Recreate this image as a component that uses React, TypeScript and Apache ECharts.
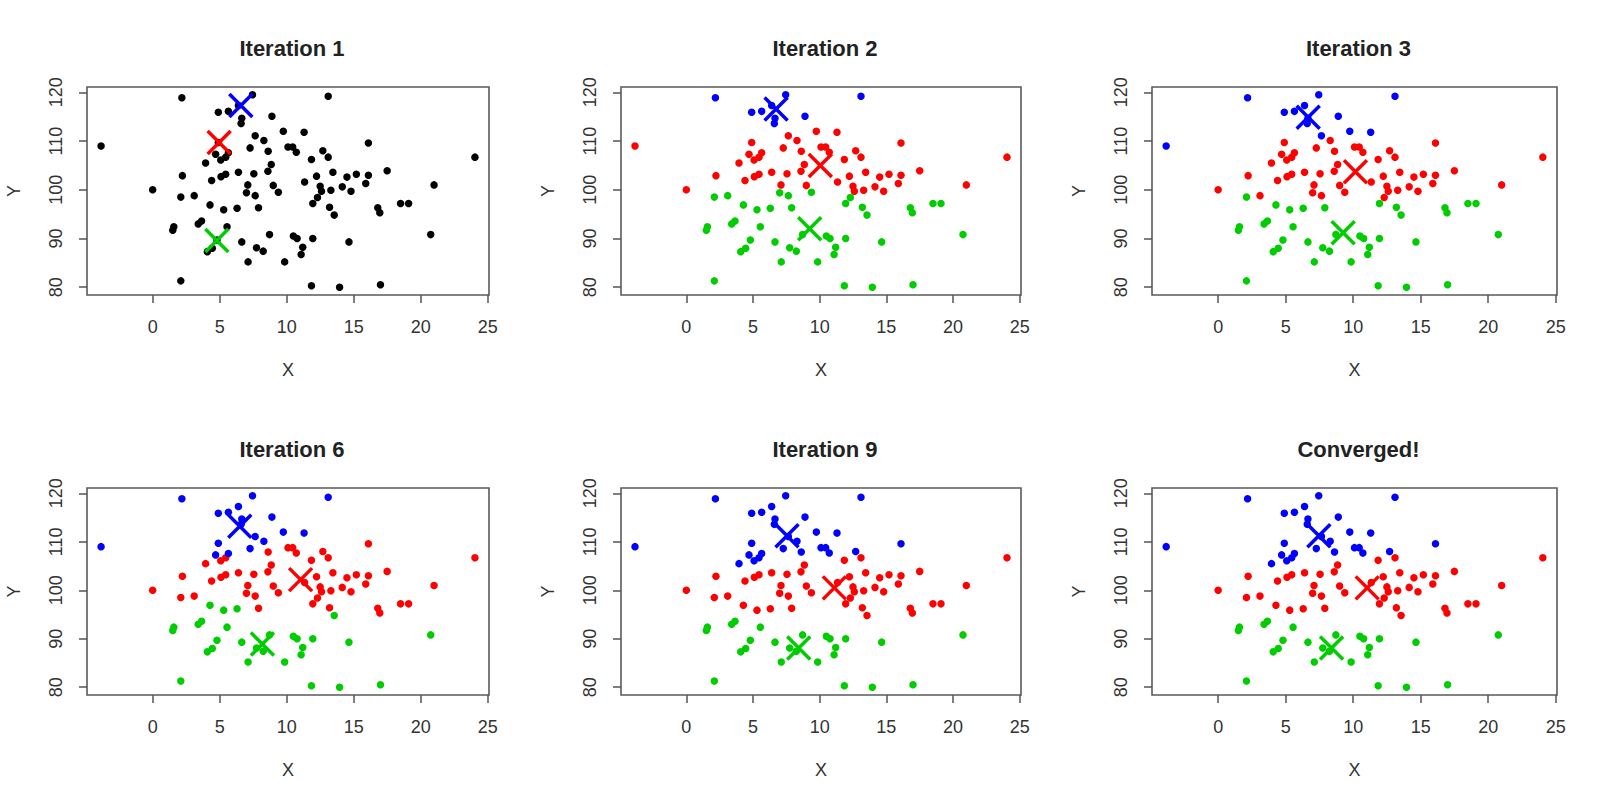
import React, { useEffect, useRef } from "react";
import * as echarts from "echarts";

// ---- data ----
const X_VALUES = [
  -3.85, 2.18, 13.1, 7.45, 4.9, 5.65, 6.65, 6.6, 8.9, 9.75, 11.3, 7.65, 8.3, 16.1, 24.05, 7.27, 8.62, 10.1, 10.45, 10.72,
  11.85, 12.7, 13.1, 3.95, 4.7, 5.08, 5.45, 5.65, 2.22, 4.4, 5.1, 5.45, 6.4, 7.55, 8.6, 8.85, 11.34, 12.23, 13.45, 14.5,
  15.2, 16.1, 15.9, 17.5, 21.0, 0.0, 2.1, 3.1, 4.28, 5.3, 6.3, 7.1, 7.0, 7.65, 7.9, 9.0, 9.38, 11.95, 12.3, 12.5,
  12.6, 13.3, 14.15, 14.8, 13.2, 13.55, 16.8, 16.95, 18.5, 19.1, 3.65, 3.4, 1.58, 1.5, 5.55, 4.8, 4.45, 4.08, 6.65, 8.72,
  7.75, 8.25, 7.12, 9.85, 10.5, 10.78, 11.95, 11.2, 11.08, 14.65, 20.75, 2.1, 11.85, 13.95, 17.0, 4.9, 6.4,
];
const Y_VALUES = [
  109.0, 118.9, 119.2, 119.5, 115.9, 116.1, 114.7, 113.6, 115.1, 112.0, 111.8, 111.1, 110.1, 109.6, 106.7, 108.6, 107.9, 108.8, 108.8, 107.7,
  106.2, 108.0, 106.7, 105.5, 107.3, 106.1, 106.7, 107.6, 102.9, 101.9, 102.7, 103.2, 103.6, 103.3, 103.8, 105.2, 101.6, 102.8, 103.6, 102.6,
  103.2, 103.0, 101.3, 103.9, 101.0, 100.0, 98.5, 98.8, 96.9, 95.9, 96.2, 101.0, 99.4, 98.8, 96.3, 100.9, 99.5, 97.2, 98.4, 100.7,
  99.7, 99.9, 100.6, 99.7, 96.4, 94.8, 96.3, 95.3, 97.2, 97.2, 93.6, 93.0, 92.4, 91.7, 92.4, 89.7, 88.0, 87.3, 89.3, 90.8,
  88.1, 87.4, 85.2, 85.2, 90.5, 90.0, 90.0, 88.2, 86.7, 89.3, 90.8, 81.3, 80.3, 80.0, 80.5, 109.7, 117.3,
];

const PANEL_TITLES = ["Iteration 1", "Iteration 2", "Iteration 3", "Iteration 6", "Iteration 9", "Converged!"];
const X_TICKS = [0, 5, 10, 15, 20, 25];
const Y_TICKS = [80, 90, 100, 110, 120];

// cluster order: red, green, blue
const CLUSTER_COLORS = ["#FF0000", "#00CD00", "#0000FF"];

// centroid markers shown in each panel, [x, y] per cluster (red, green, blue)
const CENTROIDS_ITER1 = [[4.96, 109.7], [4.79, 89.6], [6.58, 117.3]];
const CENTROIDS_ITER2 = [[10.05, 105.0], [9.25, 92.0], [6.73, 116.6]];
const CENTROIDS_ITER3 = [[10.17, 103.7], [9.26, 91.2], [6.67, 114.9]];
const CENTROIDS_ITER6 = [[11.04, 102.2], [8.19, 88.9], [6.5, 113.2]];
const CENTROIDS_ITER9 = [[11.1, 100.5], [8.43, 88.1], [7.55, 111.25]];
const CENTROIDS_FINAL = [[11.04, 100.5], [8.4, 88.1], [7.46, 111.25]];

// centroids of the preceding step, which decide each point's colour in a panel
const ASSIGN_ITER2 = [[4.96, 109.7], [4.79, 89.6], [6.58, 117.3]];
const ASSIGN_ITER3 = [[9.9, 104.9], [9.4, 91.8], [6.73, 116.6]];
const ASSIGN_ITER6 = [[11.0, 102.4], [8.1, 89.3], [6.5, 114.3]];
const ASSIGN_ITER9 = [[11.1, 100.5], [8.43, 88.1], [7.55, 111.25]];
const ASSIGN_FINAL = [[11.04, 100.5], [8.4, 88.1], [7.46, 111.25]];

const PANEL_CENTROIDS = [CENTROIDS_ITER1, CENTROIDS_ITER2, CENTROIDS_ITER3, CENTROIDS_ITER6, CENTROIDS_ITER9, CENTROIDS_FINAL];
const PANEL_ASSIGN: (number[][] | null)[] = [null, ASSIGN_ITER2, ASSIGN_ITER3, ASSIGN_ITER6, ASSIGN_ITER9, ASSIGN_FINAL];

// ---- layout ----
const GRID_LEFTS = [87, 621, 1152];
const GRID_WIDTHS = [402, 400, 405];
const GRID_TOPS = [87, 488];
const GRID_HEIGHTS = [208, 207];
const TITLE_TOPS = [32, 433];
const FONT = "'Liberation Sans', Arial, sans-serif";
const LABEL_COLOR = "#333";

function nearest(x: number, y: number, centers: number[][]): number {
  let best = 0;
  let bd = Infinity;
  centers.forEach((c, i) => {
    const d = (x - c[0]) ** 2 + (y - c[1]) ** 2;
    if (d < bd) {
      bd = d;
      best = i;
    }
  });
  return best;
}

function buildOption() {
  const grid: any[] = [];
  const xAxis: any[] = [];
  const yAxis: any[] = [];
  const title: any[] = [];
  const series: any[] = [];

  PANEL_TITLES.forEach((t, p) => {
    const col = p % 3;
    const row = Math.floor(p / 3);
    const left = GRID_LEFTS[col];
    const width = GRID_WIDTHS[col];
    grid.push({
      left,
      top: GRID_TOPS[row],
      width,
      height: GRID_HEIGHTS[row],
      show: true,
      borderColor: "#5a5a5a",
      borderWidth: 1.6,
      backgroundColor: "#fff",
    });
    title.push({
      text: t,
      left: left + width / 2 - 1,
      top: TITLE_TOPS[row],
      textAlign: "center",
      textStyle: { fontFamily: FONT, fontSize: 22, fontWeight: "bold", color: "#222" },
    });
    xAxis.push({
      type: "value",
      gridIndex: p,
      position: "bottom",
      min: -4.9,
      max: 25.1,
      splitLine: { show: false },
      axisLine: { show: false, onZero: false },
      axisTick: { show: true, customValues: X_TICKS, length: 8, lineStyle: { color: "#555", width: 1.5 } },
      axisLabel: { customValues: X_TICKS, fontSize: 18, color: LABEL_COLOR, margin: 23, fontFamily: FONT },
      name: "X",
      nameLocation: "middle",
      nameGap: 66,
      nameTextStyle: { fontSize: 18, color: LABEL_COLOR, fontFamily: FONT },
    });
    yAxis.push({
      type: "value",
      gridIndex: p,
      position: "left",
      min: 78.4,
      max: 121.1,
      splitLine: { show: false },
      axisLine: { show: false, onZero: false },
      axisTick: { show: true, customValues: Y_TICKS, length: 8, lineStyle: { color: "#555", width: 1.5 } },
      axisLabel: { customValues: Y_TICKS, fontSize: 18, color: LABEL_COLOR, margin: 22, rotate: 90, fontFamily: FONT },
      name: "Y",
      nameLocation: "middle",
      nameGap: 64,
      nameRotate: 90,
      nameTextStyle: { fontSize: 18, color: LABEL_COLOR, fontFamily: FONT },
    });

    const assign = PANEL_ASSIGN[p];
    if (!assign) {
      series.push({
        type: "scatter",
        xAxisIndex: p,
        yAxisIndex: p,
        symbol: "circle",
        symbolSize: 7.5,
        itemStyle: { color: "#000", opacity: 1 },
        data: X_VALUES.map((x, i) => [x, Y_VALUES[i]]),
        z: 2,
      });
    } else {
      CLUSTER_COLORS.forEach((c, k) => {
        series.push({
          type: "scatter",
          xAxisIndex: p,
          yAxisIndex: p,
          symbol: "circle",
          symbolSize: 7.5,
          itemStyle: { color: c, opacity: 1 },
          data: X_VALUES.map((x, i) => [x, Y_VALUES[i]]).filter((pt) => nearest(pt[0], pt[1], assign) === k),
          z: 2,
        });
      });
    }
    series.push({
      type: "scatter",
      xAxisIndex: p,
      yAxisIndex: p,
      symbol: "path://M0,0L10,10M10,0L0,10",
      symbolSize: 23,
      data: PANEL_CENTROIDS[p].map((c, k) => ({
        value: c,
        itemStyle: { color: CLUSTER_COLORS[k], borderColor: CLUSTER_COLORS[k], borderWidth: 3.5, opacity: 1 },
      })),
      z: 3,
    });
  });

  return {
    animation: false,
    backgroundColor: "#fff",
    title,
    grid,
    xAxis,
    yAxis,
    series,
  };
}

export default function App() {
  const ref = useRef<HTMLDivElement>(null);
  useEffect(() => {
    if (!ref.current) return;
    const chart = echarts.init(ref.current, undefined, { renderer: "svg" });
    chart.setOption(buildOption() as any);
    return () => chart.dispose();
  }, []);
  return (
    <div
      ref={ref}
      style={{ position: "absolute", left: 0, top: 0, width: 1600, height: 802, background: "#fff" }}
    />
  );
}
